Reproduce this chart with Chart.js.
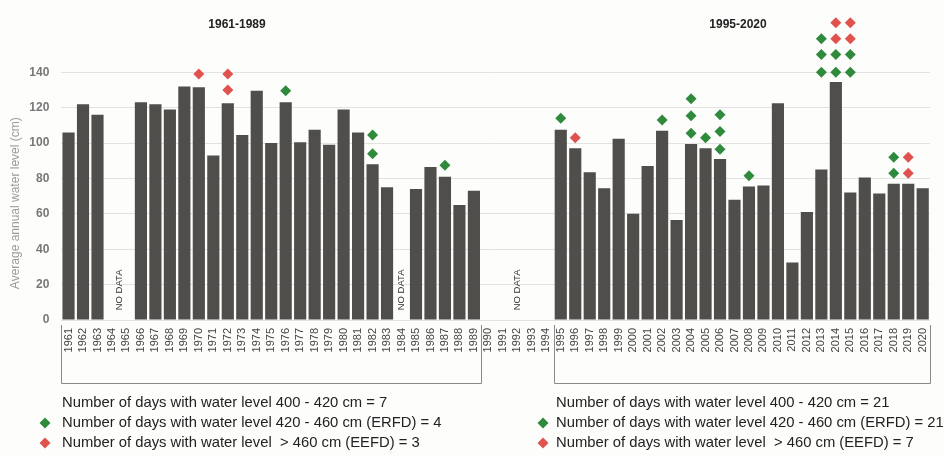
<!DOCTYPE html>
<html>
<head>
<title>Average annual water level</title>
<script src="https://cdn.jsdelivr.net/npm/chart.js@4/dist/chart.umd.min.js"></script>
<style>
body { margin: 0; background: #fdfdfc; }
</style>
</head>
<body>
<canvas id="bars" width="944" height="457"></canvas>

<script>
// years on the category axis
var years = ['1961','1962','1963','1964','1965','1966','1967','1968','1969','1970',
	'1971','1972','1973','1974','1975','1976','1977','1978','1979','1980',
	'1981','1982','1983','1984','1985','1986','1987','1988','1989','1990',
	'1991','1992','1993','1994','1995','1996','1997','1998','1999','2000',
	'2001','2002','2003','2004','2005','2006','2007','2008','2009','2010',
	'2011','2012','2013','2014','2015','2016','2017','2018','2019','2020'];

// average annual water level (cm), null = no data
var levels = [106, 122, 116, null, null, 123, 122, 119, 132, 131.5,
	93, 122.5, 104.5, 129.5, 100, 123, 100.5, 107.5, 99, 119,
	106, 88, 75, null, 74, 86.5, 81, 65, 73, null,
	null, null, null, null, 107.5, 97, 83.5, 74.5, 102.5, 60,
	87, 107, 56.5, 99.5, 97, 91, 68, 75.5, 76, 122.5,
	32.5, 61, 85, 134.5, 72, 80.5, 71.5, 77, 77, 74.5];

// green diamonds: days 420 - 460 cm (ERFD)
var erfdYears  = ['1976','1982','1982','1987','1995','2002','2004','2004','2004','2005',
	'2006','2006','2006','2008','2013','2013','2013','2014','2014','2015','2015','2018','2018'];
var erfdLevels = [129.5, 104.5, 94, 87.5, 114, 113, 125, 115.5, 105.5, 103,
	116, 106.5, 96.5, 81.5, 140, 150, 159, 140, 150, 140, 150, 92, 83];

// red diamonds: days > 460 cm (EEFD)
var eefdYears  = ['1970','1972','1972','1996','2014','2014','2015','2015','2019','2019'];
var eefdLevels = [139, 139, 130, 103, 159, 168, 159, 168, 92, 83];

var periodTitles = ['1961-1989', '1995-2020'];
var periodGroups = [['1961','1989'], ['1995','2020']];
var noDataSpans = [['1964','1965'], ['1984','1984'], ['1990','1994']];
var notes = [
	['Number of days with water level 400 - 420 cm = 7',
	 'Number of days with water level 420 - 460 cm (ERFD) = 4',
	 'Number of days with water level  > 460 cm (EEFD) = 3'],
	['Number of days with water level 400 - 420 cm = 21',
	 'Number of days with water level 420 - 460 cm (ERFD) = 21',
	 'Number of days with water level  > 460 cm (EEFD) = 7']
];

var GREEN = '#2f8a3c';
var RED = '#e0524e';
var BAR = '#4f4e4b';

function toPoints(xs, ys) {
	var out = [];
	for (var i = 0; i < xs.length; i++) out.push({x: xs[i], y: ys[i]});
	return out;
}

function diamond(ctx, x, y, r, color) {
	ctx.beginPath();
	ctx.moveTo(x, y - r);
	ctx.lineTo(x + r, y);
	ctx.lineTo(x, y + r);
	ctx.lineTo(x - r, y);
	ctx.closePath();
	ctx.fillStyle = color;
	ctx.fill();
}

var extras = {
	id: 'extras',
	afterDraw: function(chart) {
		var ctx = chart.ctx;
		var xs = chart.scales.x, ys = chart.scales.y;
		var half = (xs.getPixelForValue(1) - xs.getPixelForValue(0)) / 2;
		ctx.save();

		// period titles
		ctx.font = 'bold 12px "Liberation Sans", Arial, sans-serif';
		ctx.fillStyle = '#222';
		ctx.textAlign = 'center';
		ctx.textBaseline = 'middle';
		ctx.fillText(periodTitles[0], 237, 25);
		ctx.fillText(periodTitles[1], 738, 25);

		// y axis title
		ctx.save();
		ctx.translate(16, ys.getPixelForValue(66));
		ctx.rotate(-Math.PI / 2);
		ctx.font = '12px "Liberation Sans", Arial, sans-serif';
		ctx.fillStyle = '#9a9a9a';
		ctx.fillText('Average annual water level (cm)', 0, 0);
		ctx.restore();

		// NO DATA marks
		noDataSpans.forEach(function(s) {
			var cx = (xs.getPixelForValue(years.indexOf(s[0])) + xs.getPixelForValue(years.indexOf(s[1]))) / 2;
			ctx.save();
			ctx.translate(cx, ys.getPixelForValue(17));
			ctx.rotate(-Math.PI / 2);
			ctx.font = '9.5px "Liberation Sans", Arial, sans-serif';
			ctx.fillStyle = '#333';
			ctx.fillText('NO DATA', 0, 0);
			ctx.restore();
		});

		// brackets under the year labels
		ctx.strokeStyle = '#8a8a8a';
		ctx.lineWidth = 1;
		periodGroups.forEach(function(g) {
			var x0 = Math.round(xs.getPixelForValue(years.indexOf(g[0])) - half) + 0.5;
			var x1 = Math.round(xs.getPixelForValue(years.indexOf(g[1])) + half) + 0.5;
			ctx.beginPath();
			ctx.moveTo(x0, 325);
			ctx.lineTo(x0, 383.5);
			ctx.lineTo(x1, 383.5);
			ctx.lineTo(x1, 325);
			ctx.stroke();
		});

		// notes under the chart
		ctx.font = '14.8px "Liberation Sans", Arial, sans-serif';
		ctx.textAlign = 'left';
		var noteX = [62, 556];
		var markX = [45, 543];
		var rowY = [403, 423, 443];
		for (var p = 0; p < 2; p++) {
			for (var r = 0; r < 3; r++) {
				ctx.fillStyle = '#222';
				ctx.fillText(notes[p][r], noteX[p], rowY[r]);
			}
			diamond(ctx, markX[p], rowY[1], 5.5, GREEN);
			diamond(ctx, markX[p], rowY[2], 5.5, RED);
		}
		ctx.restore();
	}
};

var ctx = document.getElementById('bars').getContext('2d');
var chart = new Chart(ctx, {
	type: 'bar',
	data: {
		labels: years,
		datasets: [
			{
				type: 'line',
				label: 'ERFD',
				data: toPoints(erfdYears, erfdLevels),
				showLine: false,
				pointStyle: 'rectRot',
				pointRadius: 5.5,
				pointBackgroundColor: GREEN,
				pointBorderWidth: 0,
				clip: false,
				order: 1
			},
			{
				type: 'line',
				label: 'EEFD',
				data: toPoints(eefdYears, eefdLevels),
				showLine: false,
				pointStyle: 'rectRot',
				pointRadius: 5.5,
				pointBackgroundColor: RED,
				pointBorderWidth: 0,
				clip: false,
				order: 1
			},
			{
				label: 'Average annual water level',
				data: levels,
				backgroundColor: BAR,
				categoryPercentage: 1,
				barPercentage: 0.84,
				order: 2
			}
		]
	},
	options: {
		responsive: false,
		animation: false,
		layout: { padding: { left: 0, right: 11.7, top: 19, bottom: 0 } },
		plugins: { legend: { display: false }, tooltip: { enabled: false } },
		scales: {
			x: {
				grid: { display: false, drawTicks: false },
				border: { display: false },
				ticks: {
					autoSkip: false, minRotation: 90, maxRotation: 90, padding: 8,
					color: '#444', font: { size: 11 }
				},
				afterFit: function(s) { s.height = 137; }
			},
			y: {
				min: 0, max: 170,
				grid: {
					drawTicks: false,
					color: function(c) { return c.tick.value > 140 ? 'rgba(0,0,0,0)' : '#e2e2e2'; }
				},
				border: { display: false },
				ticks: {
					stepSize: 20, padding: 12, color: '#777',
					font: { size: 12, weight: 'bold' },
					callback: function(v) { return v > 140 ? '' : v; }
				},
				afterFit: function(s) { s.width = 61.3; }
			}
		}
	},
	plugins: [extras]
});
</script>
</body>
</html>
